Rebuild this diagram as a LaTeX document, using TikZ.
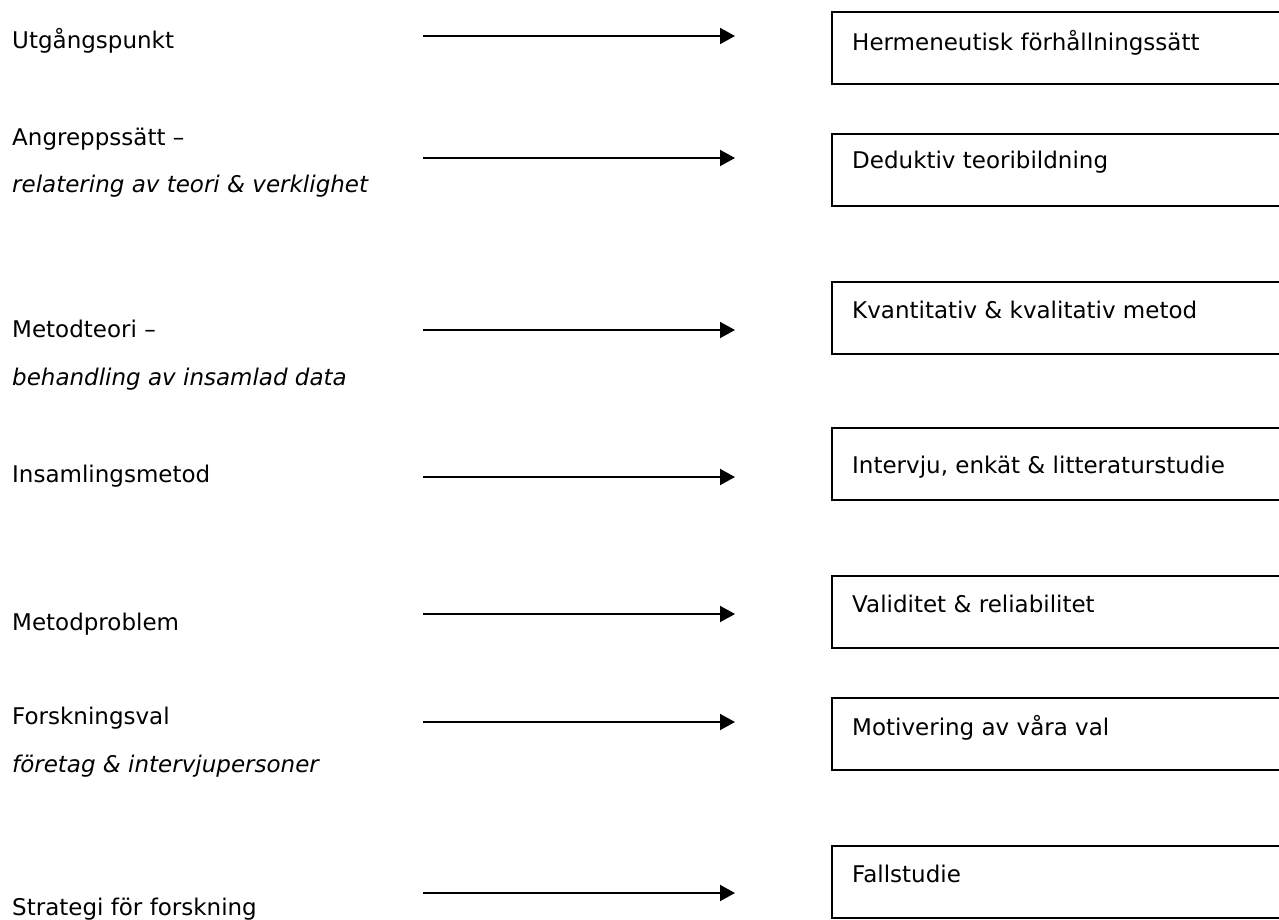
\documentclass[tikz,border=0pt]{standalone}
\usepackage{fontspec}
\setmainfont{DejaVu Sans}
\usetikzlibrary{arrows.meta}
\begin{document}
\begin{tikzpicture}[x=1pt,y=-1pt,
  lbl/.style={anchor=base west, inner sep=0pt, font=\fontsize{23}{28}\selectfont},
  sub/.style={anchor=base west, inner sep=0pt, font=\fontsize{23}{28}\selectfont\itshape},
  box/.style={draw, line width=2pt, anchor=north west, minimum width=470pt,
              minimum height=72pt, inner sep=0pt, outer sep=0pt},
  link/.style={line width=2pt, -{Triangle[length=15pt,width=16pt]}}]
\useasboundingbox (0,0) rectangle (1279,919);
\clip (0,0) rectangle (1279,919);

% left column: headings
\node[lbl] (l1)  at (12,48)  {Utgångspunkt};
\node[lbl] (l2)  at (12,145) {Angreppssätt –};
\node[sub] (l2s) at (12,192) {relatering av teori \& verklighet};
\node[lbl] (l3)  at (12,337) {Metodteori –};
\node[sub] (l3s) at (12,385) {behandling av insamlad data};
\node[lbl] (l4)  at (12,482) {Insamlingsmetod};
\node[lbl] (l5)  at (12,630) {Metodproblem};
\node[lbl] (l6)  at (12,724) {Forskningsval};
\node[sub] (l6s) at (12,772) {företag \& intervjupersoner};
\node[lbl] (l7)  at (12,915) {Strategi för forskning};

% right column: boxes
\node[box] (b1) at (832,12)  {};
\node[box] (b2) at (832,134) {};
\node[box] (b3) at (832,282) {};
\node[box] (b4) at (832,428) {};
\node[box] (b5) at (832,576) {};
\node[box] (b6) at (832,698) {};
\node[box] (b7) at (832,846) {};

\node[lbl] (t1) at (852,50)  {Hermeneutisk förhållningssätt};
\node[lbl] (t2) at (852,168) {Deduktiv teoribildning};
\node[lbl] (t3) at (852,318) {Kvantitativ \& kvalitativ metod};
\node[lbl] (t4) at (852,473) {Intervju, enkät \& litteraturstudie};
\node[lbl] (t5) at (852,612) {Validitet \& reliabilitet};
\node[lbl] (t6) at (852,735) {Motivering av våra val};
\node[lbl] (t7) at (852,882) {Fallstudie};

% arrows between the columns
\foreach \i/\y in {1/36,2/158,3/330,4/477,5/614,6/722,7/893}{
  \coordinate (s\i) at (423,\y);
  \coordinate (e\i) at (735,\y);
  \draw[link] (s\i) -- (e\i);
}
\end{tikzpicture}
\end{document}
